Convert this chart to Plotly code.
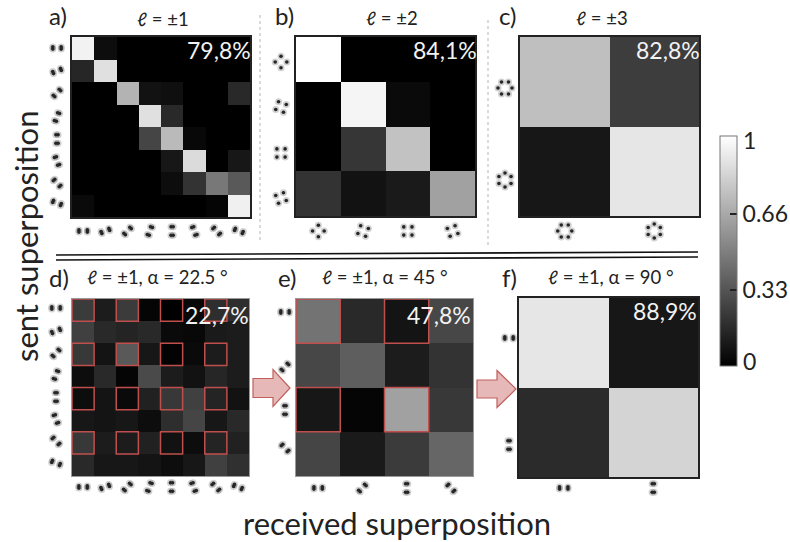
import math
import plotly.graph_objects as go

W, H = 790, 542
FONT = "Lato"

values_a = [
    [.95, .05, 0, 0, 0, 0, 0, 0],
    [.15, .88, 0, 0, 0, 0, 0, 0],
    [0, 0, .70, .07, .06, 0, 0, .16],
    [0, 0, 0, .88, .16, 0, 0, 0],
    [0, 0, 0, .27, .73, .03, 0, 0],
    [0, 0, 0, 0, .09, .86, 0, .09],
    [0, 0, 0, 0, .05, .20, .47, .35],
    [.04, 0, 0, 0, 0, 0, .02, .94],
]
values_b = [
    [1, 0, 0, 0],
    [0, .96, .04, 0],
    [0, .21, .76, 0],
    [.20, .07, .10, .63],
]
values_c = [[.75, .24], [.09, .90]]
values_d = [
    [.23, .11, .23, .02, 0, .03, .18, .18],
    [.25, .16, .14, .16, .04, .03, .10, .11],
    [.22, .08, .35, .09, .01, .04, .11, .11],
    [.05, .16, .02, .29, .11, .07, .15, .11],
    [.05, .08, .04, .13, .22, .25, .14, .07],
    [.09, .08, .09, .05, .18, .27, .09, .16],
    [.22, .11, .11, .13, .07, .05, .14, .13],
    [.16, .09, .09, .08, .05, .09, .25, .19],
]
values_e = [
    [.45, .16, .08, .28],
    [.28, .37, .11, .20],
    [.09, .02, .63, .22],
    [.27, .10, .23, .40],
]
values_f = [[.90, .09], [.17, .83]]

percent_labels = ["79,8%", "84,1%", "82,8%", "22,7%", "47,8%", "88,9%"]
panel_letters = ["a)", "b)", "c)", "d)", "e)", "f)"]
panel_titles = ["ℓ = ±1", "ℓ = ±2", "ℓ = ±3",
                "ℓ = ±1, α = 22.5 °", "ℓ = ±1, α = 45 °", "ℓ = ±1, α = 90 °"]
colorbar_ticks = [0.33, 0.66]
colorbar_ticktext = ["0.33", "0.66"]

# rotation of each superposition icon (degrees), one per row / column
rot_l1_8 = [0, 22.5, 45, 67.5, 90, 112.5, 135, 157.5]
rot_l1_4 = [0, 45, 90, 135]
rot_l1_2 = [0, 90]
rot_l2 = [0, 25, 45, 65]
rot_l3 = [0, 30]

panels = [
    dict(z=values_a, box=(72, 37, 250, 217), frame="#222", fw=1.5, rot=rot_l1_8, lobes=2, r=4.2,
         lx=57, ly=[48, 71, 93, 117, 139, 161, 183, 203], by=231),
    dict(z=values_b, box=(296, 37, 475, 216), frame="#222", fw=1.5, rot=rot_l2, lobes=4, r=5.8,
         lx=281, ly=[62, 107, 153, 198], by=231),
    dict(z=values_c, box=(520, 37, 699, 216), frame="#222", fw=1.5, rot=rot_l3, lobes=6, r=7,
         lx=505, ly=[88, 180], by=231),
    dict(z=values_d, box=(72, 299, 249, 476), frame="#999", fw=1, rot=rot_l1_8, lobes=2, r=4.2,
         lx=56, ly=[308, 331, 353, 375, 397, 419, 441, 463], by=487),
    dict(z=values_e, box=(296, 299, 473, 476), frame="#999", fw=1, rot=rot_l1_4, lobes=2, r=4.2,
         lx=285, ly=[312, 367, 410, 448], by=488),
    dict(z=values_f, box=(519, 298, 698, 477), frame="#222", fw=1.5, rot=rot_l1_2, lobes=2, r=4.2,
         lx=509, ly=[338, 445], by=488),
]
letter_pos = [(47, 15), (273, 15), (497, 15), (47, 277), (276, 277), (500, 277)]
title_pos = [(163, 19), (392, 18), (602, 18), (157, 277), (385, 277), (611, 277)]
pct_pos = [(253, 50), (479, 50), (702, 50), (251, 315), (473, 315), (699, 311)]

red_boxes = [
    (3, [0, 2, 4, 6], [0, 2, 4, 6]),
    (4, [0, 2], [0, 2]),
]

fig = go.Figure()
layout = dict(width=W, height=H, margin=dict(l=0, r=0, t=0, b=0, autoexpand=False),
              paper_bgcolor="white", plot_bgcolor="rgba(0,0,0,0)", showlegend=False,
              font=dict(family=FONT, color="#222"))
shapes, annots = [], []

for i, p in enumerate(panels):
    n = len(p["z"])
    k = i + 1
    sfx = "" if k == 1 else str(k)
    x0, y0, x1, y1 = p["box"]
    tr = dict(z=p["z"], zmin=0, zmax=1, xgap=0, ygap=0,
              colorscale=[[0, "#000000"], [1, "#ffffff"]],
              xaxis="x" + sfx, yaxis="y" + sfx, showscale=False)
    if i == 0:
        tr.update(showscale=True, colorbar=dict(
            x=720 / W, xanchor="left", xpad=0, y=1 - 251 / H, yanchor="middle", ypad=0,
            lenmode="pixels", len=230, thicknessmode="pixels", thickness=17,
            outlinecolor="#777", outlinewidth=1, tickmode="array",
            tickvals=colorbar_ticks, ticktext=colorbar_ticktext, ticks="inside",
            ticklen=7, tickwidth=1.5, tickcolor="#222",
            tickfont=dict(family=FONT, size=23, color="#222")))
    fig.add_trace(go.Heatmap(**tr))
    ax = dict(showline=True, mirror=True, linecolor=p["frame"], linewidth=p["fw"],
              showticklabels=False, ticks="", showgrid=False, zeroline=False)
    layout["xaxis" + sfx] = dict(ax, domain=[x0 / W, x1 / W], range=[-.5, n - .5],
                                 anchor="y" + sfx)
    layout["yaxis" + sfx] = dict(ax, domain=[1 - y1 / H, 1 - y0 / H], range=[n - .5, -.5],
                                 anchor="x" + sfx)

# pixel overlay for decoration
layout["xaxis7"] = dict(domain=[0, 1], range=[0, W], visible=False, anchor="y7",
                        fixedrange=True)
layout["yaxis7"] = dict(domain=[0, 1], range=[H, 0], visible=False, anchor="x7",
                        fixedrange=True)

core_x, core_y, halo_x, halo_y = [], [], [], []


def add_icon(cx, cy, rot, lobes, r):
    for j in range(lobes):
        a = math.radians(rot + j * 360 / lobes)
        lx, ly = cx + r * math.cos(a), cy - r * math.sin(a)
        if lobes == 2:
            tx, ty = math.sin(a), math.cos(a)
            for s in (-1.1, 1.1):
                core_x.append(lx + s * tx)
                core_y.append(ly + s * ty)
                halo_x.append(lx + s * tx)
                halo_y.append(ly + s * ty)
        else:
            core_x.append(lx)
            core_y.append(ly)
            halo_x.append(lx)
            halo_y.append(ly)


for p in panels:
    n = len(p["z"])
    x0, y0, x1, y1 = p["box"]
    for i, rot in enumerate(p["rot"]):
        add_icon(p["lx"], p["ly"][i], rot, p["lobes"], p["r"])
        add_icon(x0 + (x1 - x0) * (i + .5) / n, p["by"], rot, p["lobes"], p["r"])

fig.add_trace(go.Scatter(x=halo_x, y=halo_y, mode="markers", xaxis="x7", yaxis="y7",
                         marker=dict(size=7, color="rgba(70,70,70,0.25)", line_width=0),
                         hoverinfo="skip"))
fig.add_trace(go.Scatter(x=core_x, y=core_y, mode="markers", xaxis="x7", yaxis="y7",
                         marker=dict(size=3.6, color="#262626", line_width=0),
                         hoverinfo="skip"))

# red selection boxes
for idx, rows, cols in red_boxes:
    sfx = str(idx + 1)
    for r_ in rows:
        for c_ in cols:
            shapes.append(dict(type="rect", xref="x" + sfx, yref="y" + sfx,
                               x0=c_ - .5, x1=c_ + .5, y0=r_ - .5, y1=r_ + .5,
                               line=dict(color="#bf4f4c", width=1.5)))

# arrows
for (xa, xb, xh, yc, hs, hh) in [(253, 290, 273, 388, 9.5, 18.5), (477, 516, 497, 389, 9, 18.5)]:
    path = (f"M{xa},{yc-hs} L{xh},{yc-hs} L{xh},{yc-hh} L{xb},{yc} L{xh},{yc+hh} "
            f"L{xh},{yc+hs} L{xa},{yc+hs} Z")
    shapes.append(dict(type="path", xref="x7", yref="y7", path=path,
                       fillcolor="#e6b9b8", line=dict(color="#c0605c", width=1.2)))

# separators
for xv, y_a, y_b in [(260, 15, 243), (488, 20, 245)]:
    shapes.append(dict(type="line", xref="x7", yref="y7", x0=xv, x1=xv, y0=y_a, y1=y_b,
                       line=dict(color="#b5b5b5", width=1, dash="dot")))
shapes.append(dict(type="line", xref="x7", yref="y7", x0=56, x1=698, y0=255, y1=252,
                   line=dict(color="#111", width=1.6)))
shapes.append(dict(type="line", xref="x7", yref="y7", x0=56, x1=698, y0=260, y1=257,
                   line=dict(color="#111", width=1.6)))


def note(text, x, y, size, xanchor="center", color="#222", angle=0):
    annots.append(dict(text=text, xref="x7", yref="y7", x=x, y=y, showarrow=False,
                       xanchor=xanchor, yanchor="middle", textangle=angle,
                       font=dict(family=FONT, size=size, color=color)))


for i in range(6):
    note(panel_letters[i], letter_pos[i][0], letter_pos[i][1], 24, "left")
    note(panel_titles[i], title_pos[i][0], title_pos[i][1], 18.5)
    note(percent_labels[i], pct_pos[i][0], pct_pos[i][1], 23, "right", "#f2f2f2")

note("1", 741, 140, 23, "left")
note("0", 741, 361, 23, "left")
note("sent superposition", 26, 237, 31, angle=-90)
note("received superposition", 397, 523, 31)

layout["shapes"] = shapes
layout["annotations"] = annots
fig.update_layout(**layout)
fig.write_html("out.html", config={"displayModeBar": False},
               post_script="document.body.style.margin='0';document.body.style.overflow='hidden';")
